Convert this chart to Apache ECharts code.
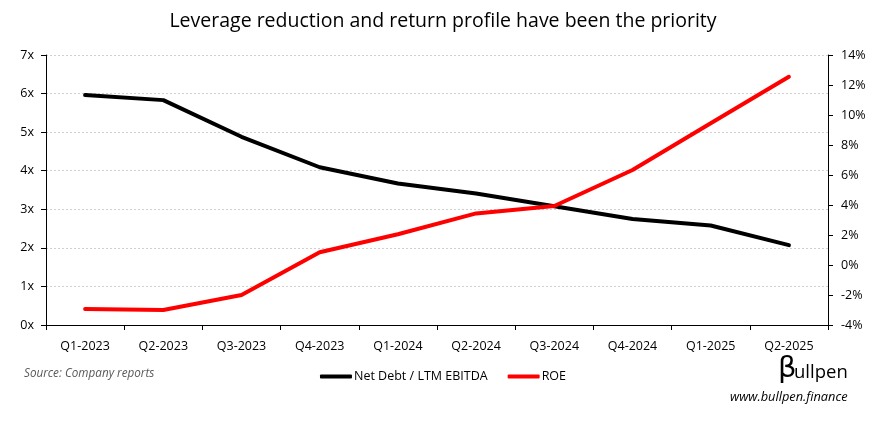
<!DOCTYPE html>
<html><head><meta charset="utf-8">
<script src="https://cdn.jsdelivr.net/npm/echarts@6/dist/echarts.min.js"></script>
<style>html,body{margin:0;padding:0;background:#fff}#c{width:886px;height:421px}</style>
</head><body><div id="c"></div>
<script>
const categories = ['Q1-2023','Q2-2023','Q3-2023','Q4-2023','Q1-2024','Q2-2024','Q3-2024','Q4-2024','Q1-2025','Q2-2025'];
const netDebtEbitda = [5.96, 5.83, 4.88, 4.09, 3.67, 3.41, 3.08, 2.75, 2.58, 2.07];
const roe = [-2.93, -3.0, -2.0, 0.85, 2.05, 3.44, 3.93, 6.33, 9.45, 12.55];
const seriesNames = ['Net Debt / LTM EBITDA', 'ROE'];
const titleText = 'Leverage reduction and return profile have been the priority';
const sourceText = 'Source: Company reports';
const brandText = 'ullpen';
const urlText = 'www.bullpen.finance';

const font = 'Open Sans';
const chart = echarts.init(document.getElementById('c'));
chart.setOption({
  animation: false,
  title: {text: titleText, left: 'center', top: 6,
    textStyle: {fontFamily: font, fontSize: 19.5, fontWeight: 'normal', color: '#000'}},
  grid: {left: 46, right: 58, top: 55, bottom: 96, containLabel: false},
  legend: {
    data: seriesNames, bottom: 33, left: 'center', itemGap: 20,
    itemWidth: 32, itemHeight: 4, icon: 'roundRect',
    textStyle: {fontFamily: font, fontSize: 12.5, color: '#000', padding: [0,0,0,-3]}
  },
  xAxis: {
    type: 'category', data: categories, boundaryGap: true,
    axisLine: {lineStyle: {color: '#000', width: 1}},
    axisTick: {show: true, length: 5, lineStyle: {color: '#000'}},
    axisLabel: {fontFamily: font, fontSize: 12.5, color: '#000', margin: 15}
  },
  yAxis: [{
    type: 'value', min: 0, max: 7, interval: 1,
    axisLine: {show: true, lineStyle: {color: '#000'}},
    axisTick: {show: true, length: 5, lineStyle: {color: '#000'}},
    axisLabel: {fontFamily: font, fontSize: 12.5, color: '#000', margin: 12, formatter: v => v + 'x'},
    splitLine: {show: true, lineStyle: {color: '#d0d0d0', type: [2, 2], width: 1}}
  }, {
    type: 'value', min: -4, max: 14, interval: 2, position: 'right',
    axisLine: {show: true, lineStyle: {color: '#000'}},
    axisTick: {show: true, length: 5, lineStyle: {color: '#000'}},
    axisLabel: {fontFamily: font, fontSize: 12.5, color: '#000', margin: 13, formatter: v => v + '%'},
    splitLine: {show: false}
  }],
  series: [{
    name: seriesNames[0], type: 'line', yAxisIndex: 0, data: netDebtEbitda,
    showSymbol: false, symbol: 'none', lineStyle: {color: '#000', width: 4, cap: 'round'},
    itemStyle: {color: '#000'}
  }, {
    name: seriesNames[1], type: 'line', yAxisIndex: 1, data: roe,
    showSymbol: false, symbol: 'none', lineStyle: {color: '#ff0000', width: 4, cap: 'round'},
    itemStyle: {color: '#ff0000'}
  }],
  graphic: [
    {type: 'text', left: 24, top: 368, style: {text: sourceText, fontFamily: font, fontSize: 11.7, fontStyle: 'italic', fill: '#595959'}},
    {type: 'text', left: 778, top: 355, style: {text: 'β', fontFamily: 'DejaVu Sans', fontSize: 29, fill: '#000'}},
    {type: 'text', left: 794, top: 363, style: {text: brandText, fontFamily: font, fontSize: 18.5, fill: '#000'}},
    {type: 'text', left: 730, top: 391, style: {text: urlText, fontFamily: font, fontSize: 12.8, fontStyle: 'italic', fill: '#000'}}
  ]
});
</script></body></html>
